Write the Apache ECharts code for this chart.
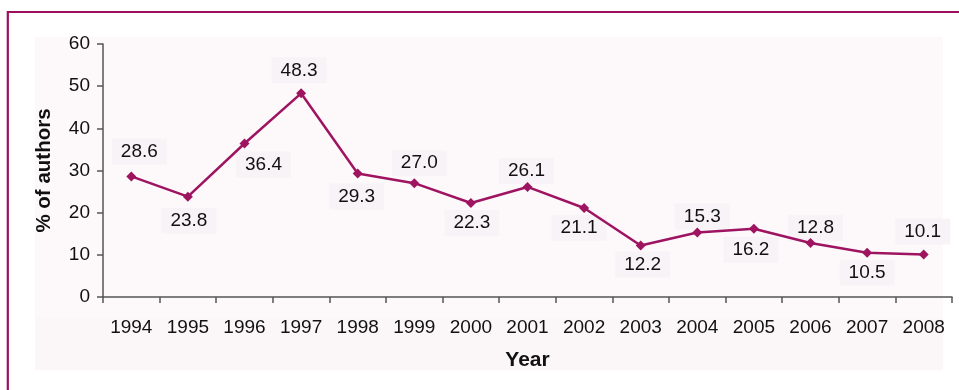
<!DOCTYPE html>
<html>
<head>
<meta charset="utf-8">
<script src="https://cdn.jsdelivr.net/npm/echarts@6/dist/echarts.min.js"></script>
<style>
  html, body { margin: 0; padding: 0; background: #ffffff; }
  #chart { width: 959px; height: 390px; }
</style>
</head>
<body>
<div id="chart"></div>
<script>
// Share of authors per year
const years = ['1994', '1995', '1996', '1997', '1998', '1999', '2000', '2001',
               '2002', '2003', '2004', '2005', '2006', '2007', '2008'];
const percentAuthors = [28.6, 23.8, 36.4, 48.3, 29.3, 27.0, 22.3, 26.1,
                        21.1, 12.2, 15.3, 16.2, 12.8, 10.5, 10.1];
const yTicks = [0, 10, 20, 30, 40, 50, 60];

// Where each value label sits relative to its point (dx, dy in px)
const labelOffsets = [
  [8, -25], [1, 24], [19, 21], [-2, -23], [-1, 23], [5, -20], [1, 20], [-1, -16],
  [-5, 20], [2, 19], [5, -16], [-3, 21], [5, -15], [0, 20], [-1, -23]
];

const FONT = '"Liberation Sans", Arial, sans-serif';
const LINE = '#9e1461';

const labelledData = percentAuthors.map((v, i) => ({
  value: v,
  label: { offset: labelOffsets[i] }
}));

const chart = echarts.init(document.getElementById('chart'), null, { renderer: 'canvas' });
chart.setOption({
  backgroundColor: '#ffffff',
  animation: false,
  graphic: [
    {
      type: 'rect', z: -10, silent: true,
      shape: { x: 35, y: 37, width: 908, height: 333 },
      style: { fill: '#fdf9fb' }
    },
    {
      type: 'rect', z: -9, silent: true,
      shape: { x: 35, y: 318, width: 908, height: 52 },
      style: { fill: '#fbf7f9' }
    },
    {
      type: 'rect', z: 100, silent: true,
      shape: { x: 7.8, y: 12, width: 1000, height: 500 },
      style: { fill: 'none', stroke: '#9c0f5f', lineWidth: 2.2 }
    }
  ],
  grid: { left: 103, right: 7, top: 44, bottom: 93 },
  xAxis: {
    type: 'category',
    data: years,
    boundaryGap: true,
    name: 'Year',
    nameLocation: 'middle',
    nameGap: 53,
    nameTextStyle: { fontFamily: FONT, fontSize: 21, fontWeight: 'bold', color: '#111' },
    axisLine: { lineStyle: { color: '#555', width: 1.5 } },
    axisTick: { show: true, length: 6, lineStyle: { color: '#555', width: 1.5 } },
    axisLabel: { fontFamily: FONT, fontSize: 19, color: '#111', margin: 21 },
    splitLine: { show: false }
  },
  yAxis: {
    type: 'value',
    min: yTicks[0],
    max: yTicks[yTicks.length - 1],
    interval: yTicks[1] - yTicks[0],
    name: '% of authors',
    nameLocation: 'middle',
    nameGap: 48,
    nameTextStyle: { fontFamily: FONT, fontSize: 20.5, fontWeight: 'bold', color: '#111' },
    axisLine: { show: true, lineStyle: { color: '#555', width: 1.5 } },
    axisTick: { show: true, length: 6, lineStyle: { color: '#555', width: 1.5 } },
    axisLabel: { fontFamily: FONT, fontSize: 19, color: '#111', margin: 13 },
    splitLine: { show: false }
  },
  series: [
    {
      // value labels with their boxes, drawn beneath the line
      type: 'line',
      z: 2,
      data: labelledData,
      symbol: 'circle',
      symbolSize: 1,
      showSymbol: true,
      showAllSymbol: true,
      itemStyle: { color: 'rgba(0,0,0,0)' },
      lineStyle: { width: 0, color: 'rgba(0,0,0,0)' },
      label: {
        show: true,
        position: 'inside',
        formatter: p => p.value.toFixed(1),
        fontFamily: FONT,
        fontSize: 19,
        color: '#111',
        backgroundColor: '#f8f3f6',
        padding: [4, 9, 3, 9]
      },
      silent: true
    },
    {
      type: 'line',
      z: 5,
      data: percentAuthors,
      symbol: 'diamond',
      symbolSize: 10,
      showAllSymbol: true,
      lineStyle: { color: LINE, width: 2.5 },
      itemStyle: { color: LINE },
      label: { show: false }
    }
  ]
});
</script>
</body>
</html>
